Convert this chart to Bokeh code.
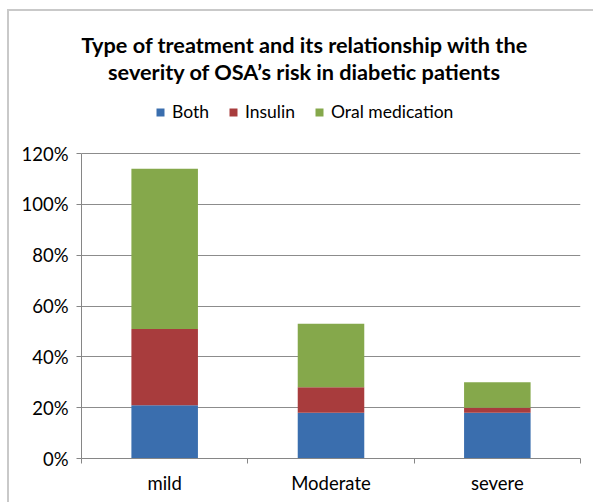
from bokeh.plotting import figure
from bokeh.models import (FixedTicker, NumeralTickFormatter, Legend, LegendItem,
                          Label, ColumnDataSource, Range1d)
from bokeh.embed import file_html
from bokeh.resources import INLINE

title_lines = ["Type of treatment and its relationship with the",
               "severity of OSA\u2019s risk in diabetic patients"]
categories = ["mild", "Moderate", "severe"]
series_names = ["Both", "Insulin", "Oral medication"]
both = [0.21, 0.18, 0.18]
insulin = [0.30, 0.10, 0.02]
oral = [0.63, 0.25, 0.10]
y_ticks = [0, 0.2, 0.4, 0.6, 0.8, 1.0, 1.2]
colors = ["#3a6eae", "#a83c3d", "#85a84b"]

FONT = "Lato"
xs = [i + 0.5 for i in range(len(categories))]
source = ColumnDataSource(dict(x=xs, Both=both, Insulin=insulin, Oral=oral))

# canvas geometry (canvas starts right after the chart border)
W, H = 586, 493
BL, BR, BB = 72, 15, 46
frame_h = H - BB            # frame reaches the top of the canvas
data_h = 305                # pixels from 0% to 120%
y_top = y_ticks[-1] * frame_h / data_h

p = figure(width=W, height=H, output_backend="svg", toolbar_location=None,
           x_range=Range1d(0, len(categories)), y_range=Range1d(0, y_top),
           min_border_left=BL, min_border_right=BR, min_border_bottom=BB,
           min_border_top=0)
p.outline_line_color = None
p.background_fill_color = "white"
p.border_fill_color = "white"
p.styles = {"margin-left": "7px", "margin-top": "9px",
            "border-left": "2px solid #c9c9c9", "border-top": "2px solid #c9c9c9"}

renderers = p.vbar_stack(["Both", "Insulin", "Oral"], x="x", width=0.4,
                         color=colors, line_color=None, source=source)

# x axis: labels at category centres, tick marks at category boundaries
p.xaxis.ticker = FixedTicker(ticks=xs, minor_ticks=list(range(len(categories) + 1)))
p.xaxis.major_label_overrides = {x: c for x, c in zip(xs, categories)}
p.xaxis.major_tick_out = 0
p.xaxis.major_tick_in = 0
p.xaxis.minor_tick_out = 5
p.xaxis.minor_tick_in = 0
p.xaxis.minor_tick_line_color = "#868686"
p.xaxis.axis_line_color = "#868686"
p.xaxis.major_label_standoff = 8
p.xaxis.major_label_text_font = FONT
p.xaxis.major_label_text_font_size = "18.5px"
p.xaxis.major_label_text_color = "#000000"

p.yaxis.ticker = FixedTicker(ticks=y_ticks)
p.yaxis.formatter = NumeralTickFormatter(format="0%")
p.yaxis.bounds = (0, y_ticks[-1])
p.yaxis.major_tick_out = 5
p.yaxis.major_tick_in = 0
p.yaxis.minor_tick_line_color = None
p.yaxis.major_tick_line_color = "#868686"
p.yaxis.axis_line_color = "#868686"
p.yaxis.major_label_standoff = 8
p.yaxis.major_label_text_font = FONT
p.yaxis.major_label_text_font_size = "18.5px"
p.yaxis.major_label_text_color = "#000000"

p.xgrid.grid_line_color = None
p.ygrid.ticker = FixedTicker(ticks=y_ticks)
p.ygrid.grid_line_color = "#8c8c8c"
p.ygrid.grid_line_width = 1

legend = Legend(items=[LegendItem(label=n, renderers=[r]) for n, r in zip(series_names, renderers)],
                orientation="horizontal", location=(74, frame_h - 111),
                glyph_width=10, glyph_height=10, label_standoff=7, spacing=19,
                padding=0, margin=0, border_line_color=None, background_fill_alpha=0,
                label_text_font=FONT, label_text_font_size="17.5px", label_text_color="#000000")
p.add_layout(legend, "center")

for i, line in enumerate(title_lines):
    p.add_layout(Label(x=223, y=frame_h - 33 - 27 * i, x_units="screen", y_units="screen",
                       text=line, text_align="center", text_baseline="alphabetic",
                       text_font=FONT, text_font_size="21.7px", text_font_style="bold",
                       text_color="#000000"))

open("out.html", "w").write(file_html(p, INLINE))
